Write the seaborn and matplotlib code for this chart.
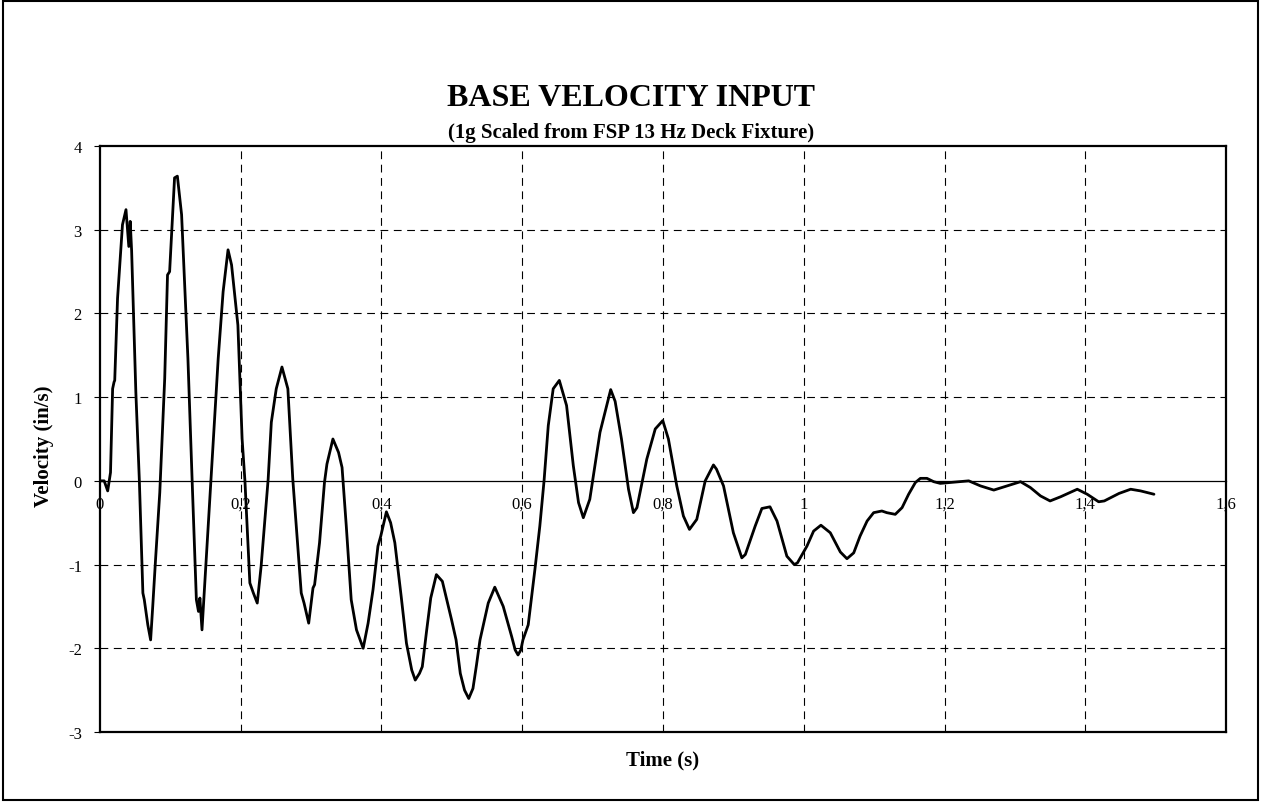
import matplotlib
matplotlib.use('Agg')
import matplotlib.pyplot as plt
import matplotlib.ticker as mticker
from matplotlib.patches import Rectangle
import pandas as pd
import seaborn as sns

# Base velocity trace
time_s = [
    0.000, 0.006, 0.011, 0.015, 0.018, 0.020, 0.021, 0.025, 0.032, 0.037,
    0.041, 0.043, 0.045, 0.051, 0.056, 0.061, 0.063, 0.068, 0.072, 0.075,
    0.079, 0.085, 0.092, 0.096, 0.099, 0.106, 0.110, 0.116, 0.125, 0.131,
    0.137, 0.140, 0.142, 0.145, 0.151, 0.158, 0.168, 0.175, 0.182, 0.187,
    0.196, 0.202, 0.206, 0.213, 0.218, 0.2235, 0.229, 0.234, 0.239, 0.2435,
    0.2505, 0.2586, 0.267, 0.274, 0.279, 0.286, 0.290, 0.2966, 0.3027, 0.305,
    0.312, 0.319, 0.3225, 0.331, 0.339, 0.344, 0.350, 0.357, 0.3645, 0.368,
    0.374, 0.381, 0.388, 0.395, 0.399, 0.407, 0.413, 0.419, 0.428, 0.4355,
    0.443, 0.448, 0.454, 0.458, 0.464, 0.470, 0.478, 0.4865, 0.4996, 0.506,
    0.512, 0.518, 0.524, 0.530, 0.535, 0.540, 0.5517, 0.561, 0.573, 0.585,
    0.590, 0.594, 0.598, 0.601, 0.6085, 0.618, 0.625, 0.631, 0.637, 0.644,
    0.6527, 0.663, 0.6726, 0.680, 0.6868, 0.696, 0.7105, 0.7257, 0.732, 0.741,
    0.751, 0.758, 0.763, 0.777, 0.789, 0.7997, 0.8077, 0.8196, 0.829, 0.8376,
    0.848, 0.860, 0.8717, 0.876, 0.886, 0.900, 0.912, 0.917, 0.931, 0.9405,
    0.952, 0.962, 0.976, 0.9865, 0.991, 1.0045, 1.014, 1.0244, 1.0377, 1.052,
    1.0614, 1.071, 1.080, 1.090, 1.0993, 1.111, 1.118, 1.130, 1.1397, 1.149,
    1.1586, 1.1657, 1.175, 1.1847, 1.194, 1.208, 1.2344, 1.251, 1.270, 1.289,
    1.308, 1.322, 1.3364, 1.350, 1.365, 1.3886, 1.4028, 1.419, 1.427, 1.448,
    1.4645, 1.4786, 1.4976,
]
velocity = [
    0.00, 0.00, -0.12, 0.10, 1.10, 1.18, 1.20, 2.18, 3.06, 3.24,
    2.80, 3.10, 2.75, 1.06, 0.00, -1.34, -1.42, -1.72, -1.90, -1.50,
    -0.94, -0.14, 1.22, 2.46, 2.50, 3.62, 3.64, 3.18, 1.46, 0.00,
    -1.42, -1.56, -1.40, -1.78, -0.94, 0.06, 1.46, 2.26, 2.76, 2.58,
    1.86, 0.50, 0.00, -1.22, -1.34, -1.46, -1.02, -0.50, 0.02, 0.70,
    1.10, 1.36, 1.10, 0.02, -0.54, -1.34, -1.46, -1.70, -1.28, -1.24,
    -0.74, -0.02, 0.20, 0.50, 0.34, 0.16, -0.54, -1.42, -1.78, -1.86,
    -2.00, -1.70, -1.30, -0.78, -0.66, -0.37, -0.50, -0.74, -1.38, -1.94,
    -2.26, -2.38, -2.30, -2.22, -1.80, -1.40, -1.12, -1.20, -1.66, -1.90,
    -2.30, -2.50, -2.60, -2.48, -2.20, -1.90, -1.46, -1.27, -1.50, -1.86,
    -2.02, -2.08, -2.02, -1.90, -1.72, -1.06, -0.54, 0.00, 0.66, 1.10,
    1.20, 0.90, 0.18, -0.26, -0.44, -0.22, 0.58, 1.09, 0.95, 0.50,
    -0.10, -0.38, -0.32, 0.26, 0.62, 0.72, 0.50, -0.06, -0.42, -0.58,
    -0.46, 0.00, 0.19, 0.14, -0.06, -0.62, -0.92, -0.88, -0.54, -0.33,
    -0.31, -0.48, -0.90, -1.00, -0.98, -0.78, -0.60, -0.53, -0.62, -0.85,
    -0.93, -0.86, -0.66, -0.48, -0.38, -0.36, -0.38, -0.40, -0.32, -0.16,
    -0.02, 0.03, 0.03, -0.01, -0.03, -0.02, 0.00, -0.06, -0.11, -0.06,
    -0.01, -0.08, -0.18, -0.24, -0.19, -0.10, -0.16, -0.25, -0.24, -0.15,
    -0.10, -0.12, -0.16,
]

x_ticks = [0, 0.2, 0.4, 0.6, 0.8, 1.0, 1.2, 1.4, 1.6]
y_ticks = [-3, -2, -1, 0, 1, 2, 3, 4]

df = pd.DataFrame({'Time': time_s, 'Velocity': velocity})

sns.set_theme(style='white')
plt.rcParams['font.family'] = ['Liberation Serif', 'DejaVu Serif']
plt.rcParams['text.color'] = 'black'
plt.rcParams['axes.labelcolor'] = 'black'
plt.rcParams['axes.unicode_minus'] = False

fig = plt.figure(figsize=(12.62, 8.03), dpi=100)
ax = fig.add_axes([0.0792, 0.0872, 0.8923, 0.7297])

sns.lineplot(data=df, x='Time', y='Velocity', color='black', linewidth=2.0,
             estimator=None, ax=ax)

ax.set_xlim(0, 1.6)
ax.set_ylim(-3, 4)

# dashed grid, skipping edges and the zero line
for xv in x_ticks[1:-1]:
    ax.axvline(xv, color='black', lw=0.8, linestyle=(0, (7, 5)), zorder=1)
for yv in y_ticks[1:-1]:
    if yv != 0:
        ax.axhline(yv, color='black', lw=0.8, linestyle=(0, (7, 5)), zorder=1)

# y axis
ax.set_yticks(y_ticks)
ax.tick_params(axis='y', direction='out', length=4, width=0.8, pad=9,
               labelsize=12, left=True, colors='black')

# x labels sit on the zero line
ax.set_xticks([])
sec = ax.secondary_xaxis(3 / 7)
sec.set_xticks(x_ticks)
sec.xaxis.set_major_formatter(
    mticker.FuncFormatter(lambda v, p: f'{v:g}'.replace('.', ',')))
sec.tick_params(axis='x', length=0, pad=11, labelsize=12, colors='black')
sec.spines['bottom'].set_linewidth(0.9)
sec.spines['bottom'].set_color('black')

for side in ['left', 'bottom', 'top', 'right']:
    ax.spines[side].set_visible(True)
    ax.spines[side].set_color('black')
    ax.spines[side].set_linewidth(1.6)

ax.set_xlabel('Time (s)', fontsize=15, fontweight='bold')
ax.set_ylabel('Velocity (in/s)', fontsize=15, fontweight='bold')
ax.xaxis.set_label_coords(0.5, -0.030)
ax.yaxis.set_label_coords(-0.041, 0.49)

fig.text(0.5, 1 - 98 / 803, 'BASE VELOCITY INPUT', ha='center', va='center',
         fontsize=23, fontweight='bold')
fig.text(0.5, 1 - 133 / 803, '(1g Scaled from FSP 13 Hz Deck Fixture)',
         ha='center', va='center', fontsize=15, fontweight='bold')

# outer frame of the chart area
fig.patches.append(Rectangle((0.002, 0.002), 0.995, 0.995, transform=fig.transFigure,
                             fill=False, edgecolor='black', linewidth=1.5))

fig.savefig('out.png', dpi=100)
